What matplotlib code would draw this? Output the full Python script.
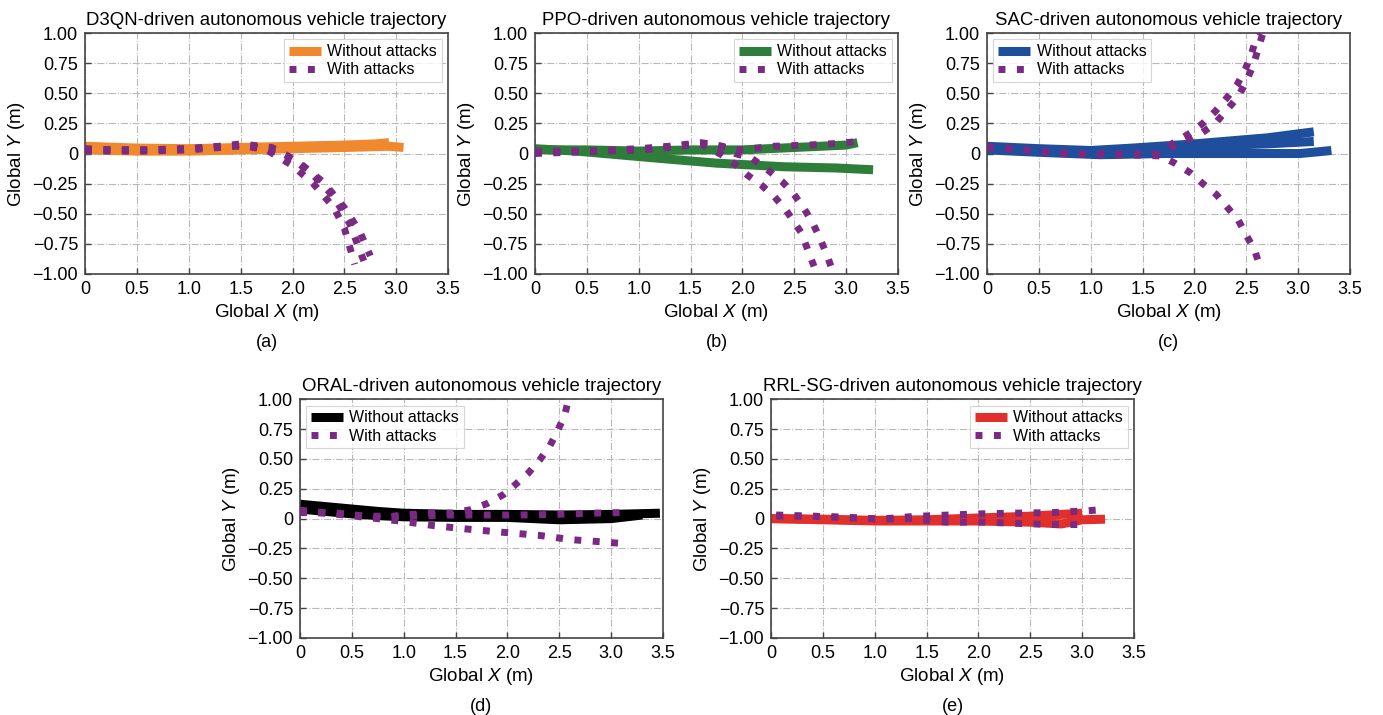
import numpy as np
import matplotlib.pyplot as plt
from matplotlib.ticker import FuncFormatter, MultipleLocator

plt.rcParams['font.family'] = ['Liberation Sans', 'DejaVu Sans']
plt.rcParams['mathtext.fontset'] = 'custom'
plt.rcParams['mathtext.rm'] = 'Liberation Sans'
plt.rcParams['mathtext.it'] = 'Liberation Sans:italic'

PURPLE = '#7a2a83'

# ---- data ----
# (a) D3QN
a_clean = [
    ([0, 0.5, 1.0, 1.5, 2.0, 2.5, 2.8, 2.93], [0.06, 0.045, 0.04, 0.05, 0.06, 0.07, 0.08, 0.09]),
    ([0, 0.5, 1.0, 1.5, 2.0, 2.5, 2.93, 3.07], [0.03, 0.02, 0.02, 0.03, 0.04, 0.05, 0.06, 0.05]),
]
a_attack = [
    ([0, 0.3, 0.6, 1.0, 1.3, 1.5, 1.75, 2.0, 2.2, 2.4, 2.5, 2.6],
     [0.02, 0.02, 0.02, 0.03, 0.05, 0.07, 0.03, -0.1, -0.25, -0.45, -0.62, -0.92]),
    ([0, 0.3, 0.6, 1.0, 1.3, 1.5, 1.8, 2.0, 2.2, 2.4, 2.55, 2.7],
     [0.03, 0.03, 0.03, 0.04, 0.06, 0.08, 0.05, -0.04, -0.18, -0.36, -0.58, -0.92]),
    ([0, 0.3, 0.6, 1.0, 1.3, 1.6, 1.9, 2.1, 2.3, 2.5, 2.65, 2.75],
     [0.04, 0.03, 0.03, 0.04, 0.06, 0.06, 0.0, -0.1, -0.24, -0.45, -0.65, -0.85]),
]

# (b) PPO
b_clean = [
    ([0, 0.5, 1.0, 1.5, 2.0, 2.5, 3.0, 3.11], [0.03, 0.03, 0.02, 0.03, 0.03, 0.05, 0.07, 0.09]),
    ([0, 0.4, 0.8, 1.2, 1.75, 2.4, 2.9, 3.26], [0.04, 0.02, -0.01, -0.04, -0.08, -0.11, -0.12, -0.135]),
]
b_attack = [
    ([0, 0.5, 1.0, 1.3, 1.64, 1.8, 1.97, 2.3, 2.63, 2.95, 3.11],
     [0.0, 0.015, 0.03, 0.06, 0.085, 0.06, 0.03, 0.06, 0.07, 0.085, 0.10]),
    ([0, 0.5, 1.0, 1.3, 1.6, 1.8, 1.93, 2.05, 2.18, 2.31, 2.42, 2.5, 2.57, 2.63, 2.71],
     [0.01, 0.02, 0.03, 0.05, 0.08, -0.01, -0.09, -0.18, -0.26, -0.36, -0.47, -0.57, -0.66, -0.8, -0.98]),
    ([0, 0.5, 1.0, 1.3, 1.6, 1.8, 1.93, 2.09, 2.25, 2.38, 2.49, 2.59, 2.68, 2.74, 2.81, 2.88],
     [0.02, 0.02, 0.04, 0.06, 0.09, 0.06, 0.0, -0.04, -0.14, -0.23, -0.33, -0.45, -0.58, -0.69, -0.83, -1.0]),
]

# (c) SAC
c_clean = [
    ([0, 0.5, 1.0, 1.4, 2.0, 2.7, 3.15], [0.06, 0.04, 0.025, 0.045, 0.08, 0.13, 0.18]),
    ([0, 0.5, 1.0, 1.4, 2.0, 2.7, 3.15], [0.05, 0.03, 0.015, 0.03, 0.06, 0.08, 0.1]),
    ([0, 0.5, 1.09, 1.73, 2.37, 3.02, 3.32], [0.03, 0.01, -0.01, 0.0, 0.0, 0.0, 0.025]),
]
c_attack = [
    ([0, 0.34, 0.67, 0.99, 1.32, 1.65, 1.8, 1.96, 2.08, 2.2, 2.31, 2.41, 2.49, 2.55, 2.6, 2.63],
     [0.06, 0.03, 0.01, 0.0, 0.0, 0.0, 0.09, 0.17, 0.25, 0.35, 0.46, 0.57, 0.7, 0.83, 0.97, 1.02]),
    ([0, 0.34, 0.67, 0.99, 1.32, 1.65, 1.85, 2.07, 2.2, 2.31, 2.42, 2.5, 2.57, 2.61, 2.66],
     [0.05, 0.03, 0.0, -0.01, -0.01, 0.0, 0.08, 0.17, 0.25, 0.36, 0.47, 0.6, 0.74, 0.86, 1.0]),
    ([0, 0.34, 0.67, 0.99, 1.32, 1.67, 1.81, 1.96, 2.08, 2.21, 2.32, 2.42, 2.5, 2.58, 2.63],
     [0.05, 0.03, 0.01, -0.01, -0.01, -0.02, -0.08, -0.16, -0.25, -0.34, -0.45, -0.55, -0.68, -0.8, -0.94]),
]

# (d) ORAL
d_clean = [
    ([0, 0.25, 0.5, 0.75, 1.0, 1.5, 2.0, 2.5, 3.0, 3.47], [0.12, 0.1, 0.08, 0.06, 0.045, 0.035, 0.035, 0.03, 0.035, 0.045]),
    ([0, 0.25, 0.5, 0.75, 1.0, 1.5, 2.0, 2.5, 3.0, 3.3], [0.08, 0.06, 0.04, 0.025, 0.015, 0.01, 0.01, -0.01, 0.0, 0.03]),
]
d_attack = [
    ([0, 0.32, 0.64, 0.8, 0.97, 1.3, 1.47, 1.64, 1.8, 1.96, 2.07, 2.2, 2.31, 2.41, 2.48, 2.55, 2.59],
     [0.05, 0.05, 0.02, 0.0, 0.03, 0.046, 0.046, 0.074, 0.124, 0.2, 0.28, 0.38, 0.49, 0.61, 0.73, 0.86, 1.0]),
    ([0, 0.32, 0.64, 1.0, 1.47, 1.8, 2.12, 2.46, 2.78, 3.12],
     [0.06, 0.04, 0.02, 0.02, 0.03, 0.03, 0.03, 0.035, 0.045, 0.05]),
    ([0, 0.32, 0.64, 0.96, 1.13, 1.3, 1.64, 1.96, 2.3, 2.62, 2.95, 3.12],
     [0.07, 0.04, 0.01, -0.02, -0.04, -0.06, -0.09, -0.115, -0.14, -0.177, -0.197, -0.21]),
]

# (e) RRL-SG
e_clean = [
    ([0, 0.5, 1.0, 1.5, 2.0, 2.5, 3.0], [0.0, -0.005, -0.015, -0.01, 0.005, 0.02, 0.045]),
    ([0, 0.5, 1.0, 1.5, 2.0, 2.5, 2.8, 3.0, 3.22], [0.0, -0.01, -0.02, -0.02, -0.02, -0.03, -0.045, -0.01, -0.005]),
]
e_attack = [
    ([0.05, 0.39, 0.72, 1.05, 1.38, 1.71, 2.04, 2.37, 2.71, 3.03, 3.19],
     [0.03, 0.02, 0.01, -0.004, 0.018, 0.03, 0.04, 0.046, 0.05, 0.065, 0.074]),
    ([0.05, 0.39, 0.72, 1.05, 1.38, 1.55, 1.71, 2.05, 2.37, 2.71, 3.03],
     [0.02, 0.02, 0.01, -0.004, 0.0, -0.02, -0.03, -0.03, -0.04, -0.05, -0.05]),
]

panels = [
    ('D3QN', '#f0882e', a_clean, a_attack, 'upper right', '(a)'),
    ('PPO', '#2e7d3a', b_clean, b_attack, 'upper right', '(b)'),
    ('SAC', '#1f4f9c', c_clean, c_attack, 'upper left', '(c)'),
    ('ORAL', '#000000', d_clean, d_attack, 'upper left', '(d)'),
    ('RRL-SG', '#e1302b', e_clean, e_attack, 'upper right', '(e)'),
]

# axes rectangles in figure fraction
rects = [
    [0.0615, 0.6168, 0.2625, 0.337],
    [0.3868, 0.6168, 0.2625, 0.337],
    [0.7137, 0.6168, 0.2625, 0.337],
    [0.2169, 0.1077, 0.2625, 0.334],
    [0.5575, 0.1077, 0.2625, 0.334],
]


def fmt(v, pos, nd):
    if abs(v) < 1e-9:
        return '0'
    return f'{v:.{nd}f}'.replace('-', '\u2212')


fig = plt.figure(figsize=(13.83, 7.15), dpi=100)

for (name, col, clean, attack, loc, tag), r in zip(panels, rects):
    ax = fig.add_axes(r)
    for i, (x, y) in enumerate(clean):
        ax.plot(x, y, color=col, lw=6.5, solid_capstyle='butt', solid_joinstyle='round',
                label='Without attacks' if i == 0 else None, zorder=2)
    for i, (x, y) in enumerate(attack):
        ax.plot(x, y, color=PURPLE, lw=5, ls=':',
                label='With attacks' if i == 0 else None, zorder=3)
    ax.set_xlim(0, 3.5)
    ax.set_ylim(-1, 1)
    ax.xaxis.set_major_locator(MultipleLocator(0.5))
    ax.yaxis.set_major_locator(MultipleLocator(0.25))
    ax.xaxis.set_major_formatter(FuncFormatter(lambda v, p: fmt(v, p, 1)))
    ax.yaxis.set_major_formatter(FuncFormatter(lambda v, p: fmt(v, p, 2)))
    ax.tick_params(direction='in', length=4.5, width=1, color='#444444',
                   labelsize=13, pad=5)
    ax.grid(True, ls='-.', color='#b8b8b8', lw=0.8)
    ax.set_axisbelow(True)
    for s in ax.spines.values():
        s.set_color('#444444')
        s.set_linewidth(1.2)
    ax.set_title(f'{name}-driven autonomous vehicle trajectory', fontsize=13.4, pad=6)
    ax.set_xlabel('Global $\\it{X}$ (m)', fontsize=13.5, labelpad=3)
    ax.set_ylabel('Global $\\it{Y}$ (m)', fontsize=13.5, labelpad=4)
    leg = ax.legend(loc=loc, fontsize=11.5, frameon=True, fancybox=False,
                    borderpad=0.3, labelspacing=0.2, handletextpad=0.4,
                    borderaxespad=0.4)
    leg.get_frame().set_edgecolor('#cccccc')
    leg.get_frame().set_linewidth(0.8)
    ax.text(0.5, -0.285, tag, transform=ax.transAxes, ha='center', va='center', fontsize=13)

fig.savefig('out.png', dpi=100)
